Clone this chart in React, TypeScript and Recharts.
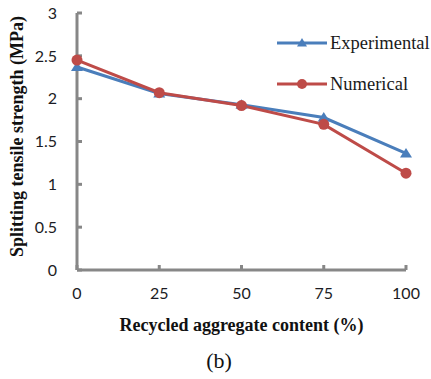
import React from 'react';
import { LineChart, Line, XAxis, YAxis, Label } from 'recharts';

// Recycled aggregate replacement levels (%)
const contents = [0, 25, 50, 75, 100];
// Splitting tensile strength (MPa)
const experimental = [2.37, 2.06, 1.93, 1.78, 1.36];
const numerical = [2.45, 2.07, 1.92, 1.70, 1.13];
const yTicks = [0, 0.5, 1, 1.5, 2, 2.5, 3];

const seriesNames = ['Experimental', 'Numerical'];
const BLUE = '#4A7EBB';
const RED = '#BE4B48';
const AXIS = '#878787';
const SERIF = '"Liberation Serif", "Times New Roman", serif';
const TICK_FONT = { fill: '#1c1c24', fontSize: 16, fontFamily: 'Lato, sans-serif' };

const data = contents.map((c, i) => ({
  content: c,
  experimental: experimental[i],
  numerical: numerical[i],
}));

const TriangleDot = (props: any) => {
  const { cx, cy, index } = props;
  if (cx == null || cy == null) return <g key={`t-${index}`} />;
  const w = 6, h = 9;
  return (
    <polygon
      key={`t-${index}`}
      points={`${cx},${cy - h * 0.6} ${cx - w},${cy + h * 0.45} ${cx + w},${cy + h * 0.45}`}
      fill={BLUE}
    />
  );
};

const CircleDot = (props: any) => {
  const { cx, cy, index } = props;
  if (cx == null || cy == null) return <g key={`c-${index}`} />;
  return <circle key={`c-${index}`} cx={cx} cy={cy} r={5.5} fill={RED} />;
};

// Rotated y-axis title, placed to the left of the tick labels
const YTitle = (props: any) => {
  const vb = props.viewBox || {};
  const x = (vb.x ?? 0) + 10;
  const y = (vb.y ?? 0) + (vb.height ?? 0) / 2 - 5;
  return (
    <text
      x={x}
      y={y}
      transform={`rotate(-90, ${x}, ${y})`}
      textAnchor="middle"
      dominantBaseline="central"
      fontFamily={SERIF}
      fontWeight="bold"
      fontSize={18}
      fill="#111"
    >
      Splitting tensile strength (MPa)
    </text>
  );
};

const LegendBox = () => (
  <div
    style={{
      position: 'absolute',
      left: 277,
      top: 33,
      fontFamily: SERIF,
      fontSize: 18.5,
      color: '#1a1a1a',
    }}
  >
    {seriesNames.map((name, i) => (
      <div key={name} style={{ display: 'flex', alignItems: 'center', height: 20, marginBottom: i === 0 ? 21 : 0 }}>
        <svg width={52} height={20} style={{ display: 'block' }}>
          <line x1={0} y1={10} x2={50} y2={10} stroke={i === 0 ? BLUE : RED} strokeWidth={3} />
          {i === 0 ? (
            <polygon points="25,5 20,13.5 30,13.5" fill={BLUE} />
          ) : (
            <circle cx={25} cy={10} r={5} fill={RED} />
          )}
        </svg>
        <span style={{ marginLeft: 1, lineHeight: '20px' }}>{name}</span>
      </div>
    ))}
  </div>
);

export default function App() {
  return (
    <div style={{ position: 'absolute', left: 0, top: 0, width: 431, height: 379, background: '#fff' }}>
      <LineChart
        width={431}
        height={379}
        data={data}
        margin={{ top: 13, right: 25, bottom: 79, left: 7 }}
      >
        <XAxis
          dataKey="content"
          type="number"
          domain={[0, 100]}
          ticks={contents}
          height={30}
          axisLine={{ stroke: AXIS, strokeWidth: 3 }}
          tickLine={{ stroke: AXIS, strokeWidth: 3 }}
          tickSize={-5}
          tickMargin={23}
          tick={TICK_FONT}
        >
          <Label
            value="Recycled aggregate content (%)"
            position="bottom"
            offset={18}
            fontFamily={SERIF}
            fontWeight="bold"
            fontSize={18}
            fill="#111"
          />
        </XAxis>
        <YAxis
          type="number"
          domain={[0, 3]}
          ticks={yTicks}
          width={70}
          axisLine={{ stroke: AXIS, strokeWidth: 3 }}
          tickLine={{ stroke: AXIS, strokeWidth: 3 }}
          tickSize={-5}
          tickMargin={25}
          tick={TICK_FONT}
        >
          <Label content={YTitle} />
        </YAxis>
        <Line
          type="linear"
          dataKey="experimental"
          name={seriesNames[0]}
          stroke={BLUE}
          strokeWidth={3}
          dot={TriangleDot}
          activeDot={false}
          isAnimationActive={false}
        />
        <Line
          type="linear"
          dataKey="numerical"
          name={seriesNames[1]}
          stroke={RED}
          strokeWidth={3}
          dot={CircleDot}
          activeDot={false}
          isAnimationActive={false}
        />
      </LineChart>
      <LegendBox />
      <div
        style={{
          position: 'absolute',
          left: 0,
          width: 438,
          top: 348,
          textAlign: 'center',
          fontFamily: SERIF,
          fontSize: 22,
          color: '#111',
          lineHeight: '26px',
        }}
      >
        (b)
      </div>
    </div>
  );
}
